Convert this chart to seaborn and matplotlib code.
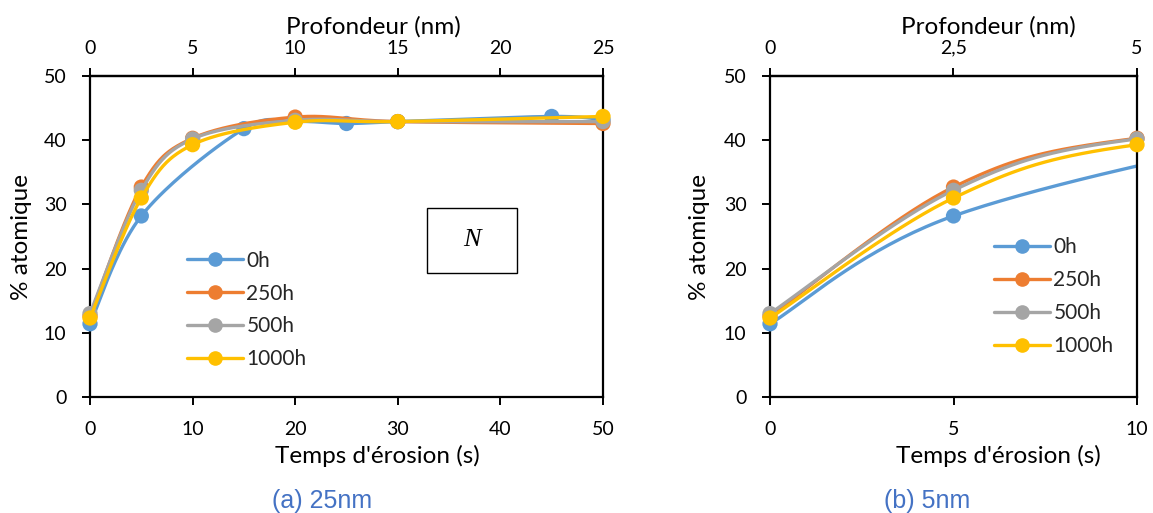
import numpy as np
import pandas as pd
import matplotlib
matplotlib.use("Agg")
import matplotlib.pyplot as plt
import seaborn as sns
from matplotlib.patches import Rectangle
from matplotlib.lines import Line2D

# ---- data ----
series_names = ["0h", "250h", "500h", "1000h"]
t_0h = [0, 5, 15, 20, 25, 30, 45, 50]
v_0h = [11.4, 28.2, 41.8, 42.9, 42.6, 42.9, 43.7, 43.2]
t_250h = [0, 5, 10, 20, 30, 50]
v_250h = [12.6, 32.7, 40.3, 43.6, 42.9, 42.6]
t_500h = [0, 5, 10, 20, 30, 50]
v_500h = [13.0, 32.2, 40.2, 43.1, 42.9, 42.9]
t_1000h = [0, 5, 10, 20, 30, 50]
v_1000h = [12.3, 31.0, 39.3, 42.8, 42.9, 43.7]
colors = ["#5B9BD5", "#ED7D31", "#A5A5A5", "#FFC000"]
bottom_ticks_a = [0, 10, 20, 30, 40, 50]
bottom_ticks_b = [0, 5, 10]
top_ticks_a = [0, 5, 10, 15, 20, 25]
top_labels_a = ["0", "5", "10", "15", "20", "25"]
top_ticks_b = [0, 2.5, 5]
top_labels_b = ["0", "2,5", "5"]
y_ticks = [0, 10, 20, 30, 40, 50]

xs = [t_0h, t_250h, t_500h, t_1000h]
ys = [v_0h, v_250h, v_500h, v_1000h]


def smooth(x, y, n=40):
    """Catmull-Rom smoothing (like Excel's smoothed line) through the data points."""
    x = np.asarray(x, float); y = np.asarray(y, float)
    P = np.column_stack([x, y])
    P = np.vstack([P[0], P, P[-1]])
    out = []
    for i in range(1, len(P) - 2):
        p0, p1, p2, p3 = P[i - 1], P[i], P[i + 1], P[i + 2]
        t = np.linspace(0, 1, n)[:, None]
        c = 0.5 * ((2 * p1) + (-p0 + p2) * t + (2 * p0 - 5 * p1 + 4 * p2 - p3) * t ** 2
                   + (-p0 + 3 * p1 - 3 * p2 + p3) * t ** 3)
        out.append(c if i == 1 else c[1:])
    c = np.vstack(out)
    return c[:, 0], c[:, 1]


sns.set_theme(style="white")
plt.rcParams["font.family"] = ["Lato", "DejaVu Sans"]

fig = plt.figure(figsize=(11.53, 5.13), dpi=100)
ax1 = fig.add_axes([90 / 1153, 116 / 513, 513 / 1153, 321 / 513])
ax2 = fig.add_axes([770 / 1153, 116 / 513, 367 / 1153, 321 / 513])

TICK_FS = 14
TITLE_FS = 17.5
LEG_FS = 15
LW = 2.4
MS = 11

configs = [
    (ax1, 50, bottom_ticks_a, top_ticks_a, top_labels_a, 0.561, 0.552, -0.1326),
    (ax2, 10, bottom_ticks_b, top_ticks_b, top_labels_b, 0.621, 0.594, -0.191),
]

for ax, xmax, bt, tt, tl, xl_x, tl_x, yl_x in configs:
    for k, (name, x, y, c) in enumerate(zip(series_names, xs, ys, colors)):
        sx, sy = smooth(x, y)
        sns.lineplot(x=sx, y=sy, sort=False, estimator=None, color=c, lw=LW, ax=ax,
                     zorder=2 + 2 * k)
        pts = pd.DataFrame({"t": x, "v": y})
        pts = pts[pts.t <= xmax]
        sns.scatterplot(data=pts, x="t", y="v", color=c, s=MS ** 2, edgecolor="none",
                        ax=ax, zorder=3 + 2 * k, clip_on=False, legend=False)
    ax.set_xlim(0, xmax)
    ax.set_ylim(0, 50)
    ax.set_xticks(bt)
    ax.set_yticks(y_ticks)
    ax.tick_params(axis="both", direction="out", length=6, width=1.4, color="black",
                   labelsize=TICK_FS, labelcolor="black", bottom=True, left=True, pad=11)
    for sp in ax.spines.values():
        sp.set_color("black"); sp.set_linewidth(1.6); sp.set_visible(True)
    ax.set_xlabel("Temps d'érosion (s)", fontsize=TITLE_FS, color="black")
    ax.xaxis.label.set_va("center")
    ax.xaxis.set_label_coords(xl_x, (397 - 456) / 321)
    ax.set_ylabel("% atomique", fontsize=TITLE_FS, color="black")
    ax.yaxis.label.set_va("center")
    ax.yaxis.set_label_coords(yl_x, 0.497)
    sec = ax.secondary_xaxis("top", functions=(lambda v: v / 2, lambda v: v * 2))
    sec.set_xticks(tt)
    sec.set_xticklabels(tl)
    sec.tick_params(direction="out", length=6, width=1.4, color="black",
                    labelsize=TICK_FS, labelcolor="black", pad=8)
    sec.spines["top"].set_linewidth(1.6)
    sec.spines["top"].set_color("black")
    sec.set_xlabel("Profondeur (nm)", fontsize=TITLE_FS, color="black", labelpad=4)
    sec.xaxis.label.set_x(tl_x)

handles = [Line2D([], [], color=c, lw=LW, marker="o", markersize=9.5) for c in colors]
leg_kw = dict(frameon=False, fontsize=LEG_FS, handlelength=2.7, labelspacing=0.62,
              handletextpad=0.15, borderaxespad=0, borderpad=0, loc="center left")
ax1.legend(handles, series_names, bbox_to_anchor=((187 - 90) / 513, (397 - 310) / 321), **leg_kw)
ax2.legend(handles, series_names, bbox_to_anchor=((994 - 770) / 367, (397 - 296.5) / 321), **leg_kw)

ax1.add_patch(Rectangle(((427 - 90) / 513, (397 - 273) / 321), 90 / 513, 65 / 321,
                        transform=ax1.transAxes, fill=False, ec="black", lw=1.0, zorder=20))
ax1.text((472 - 90) / 513, (397 - 240) / 321, "N", transform=ax1.transAxes, ha="center",
         va="center", fontsize=19, family="Liberation Serif", style="italic", color="black")

fig.text(322 / 1153, 1 - 501 / 513, "(a) 25nm", ha="center", va="center", fontsize=18,
         color="#4472C4", family="Liberation Sans")
fig.text(927 / 1153, 1 - 501 / 513, "(b) 5nm", ha="center", va="center", fontsize=18,
         color="#4472C4", family="Liberation Sans")

fig.savefig("out.png", dpi=100, facecolor="white")
